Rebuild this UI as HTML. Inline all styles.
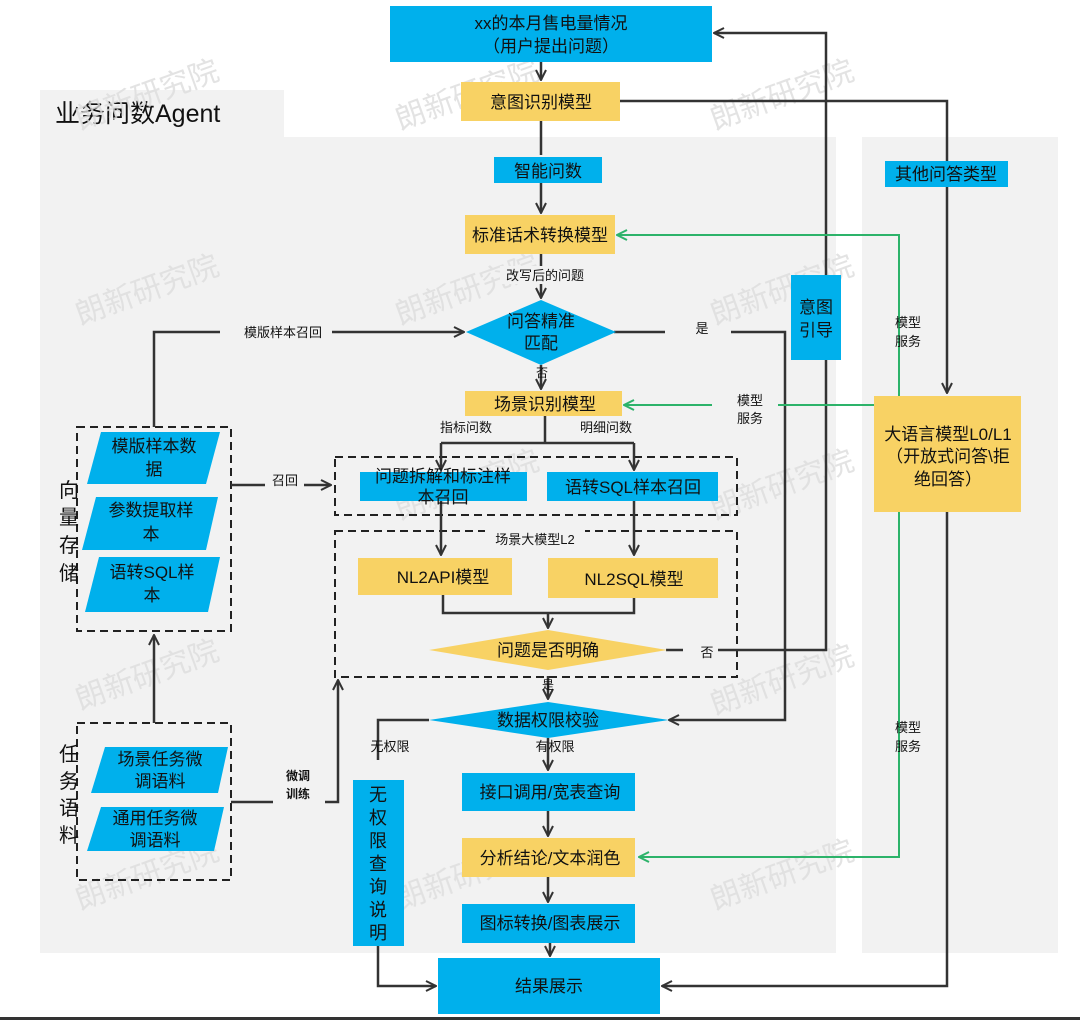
<!DOCTYPE html>
<html><head><meta charset="utf-8"><style>
html,body{margin:0;padding:0;background:#fff}
svg{display:block}
text{font-family:"Liberation Sans","Noto Sans CJK SC",sans-serif;fill:#111}
</style></head><body>
<svg width="1080" height="1020" viewBox="0 0 1080 1020" xmlns="http://www.w3.org/2000/svg">
<defs>
<marker id="a" viewBox="0 0 12 12" refX="11" refY="6" markerWidth="12" markerHeight="12" markerUnits="userSpaceOnUse" orient="auto"><path d="M1,1 L11,6 L1,11" fill="none" stroke="#333" stroke-width="2"/></marker>
<marker id="g" viewBox="0 0 12 12" refX="11" refY="6" markerWidth="12" markerHeight="12" markerUnits="userSpaceOnUse" orient="auto"><path d="M1,1 L11,6 L1,11" fill="none" stroke="#2db36a" stroke-width="2"/></marker>
</defs>
<!-- panels -->
<rect x="40" y="90" width="244" height="47" fill="#f2f2f2"/>
<rect x="40" y="137" width="796" height="816" fill="#f2f2f2"/>
<rect x="862" y="137" width="196" height="816" fill="#f2f2f2"/>
<text x="55" y="122" font-size="25">业务问数Agent</text>
<!-- watermarks -->
<g fill="#dcdcdc" font-size="30" opacity="0.8">
<text x="80" y="130" transform="rotate(-20 80 130)" style="fill:#ddd">朗新研究院</text>
<text x="80" y="325" transform="rotate(-20 80 325)" style="fill:#ddd">朗新研究院</text>
<text x="80" y="710" transform="rotate(-20 80 710)" style="fill:#ddd">朗新研究院</text>
<text x="80" y="910" transform="rotate(-20 80 910)" style="fill:#ddd">朗新研究院</text>
<text x="400" y="130" transform="rotate(-20 400 130)" style="fill:#ddd">朗新研究院</text>
<text x="400" y="325" transform="rotate(-20 400 325)" style="fill:#ddd">朗新研究院</text>
<text x="400" y="520" transform="rotate(-20 400 520)" style="fill:#ddd">朗新研究院</text>
<text x="400" y="910" transform="rotate(-20 400 910)" style="fill:#ddd">朗新研究院</text>
<text x="715" y="130" transform="rotate(-20 715 130)" style="fill:#ddd">朗新研究院</text>
<text x="715" y="325" transform="rotate(-20 715 325)" style="fill:#ddd">朗新研究院</text>
<text x="715" y="520" transform="rotate(-20 715 520)" style="fill:#ddd">朗新研究院</text>
<text x="715" y="715" transform="rotate(-20 715 715)" style="fill:#ddd">朗新研究院</text>
<text x="715" y="910" transform="rotate(-20 715 910)" style="fill:#ddd">朗新研究院</text>
</g>
<!-- dashed boxes -->
<g fill="none" stroke="#222" stroke-width="2" stroke-dasharray="8,5">
<rect x="335" y="457" width="402" height="58"/>
<rect x="335" y="531" width="402" height="146"/>
<rect x="77" y="427" width="154" height="204"/>
<rect x="77" y="723" width="154" height="157"/>
</g>
<!-- connectors dark -->
<g fill="none" stroke="#333" stroke-width="2.5">
<path d="M541,62 V80" marker-end="url(#a)"/>
<path d="M541,121 V155"/>
<path d="M541,183 V213" marker-end="url(#a)"/>
<path d="M541,254 V266"/>
<path d="M541,284 V298" marker-end="url(#a)"/>
<path d="M541,365 V389" marker-end="url(#a)"/>
<path d="M545,416 V443 M441,443 H634"/>
<path d="M441,443 V470" marker-end="url(#a)"/>
<path d="M634,443 V470" marker-end="url(#a)"/>
<path d="M441,500 V555" marker-end="url(#a)"/>
<path d="M634,500 V555" marker-end="url(#a)"/>
<path d="M443,595 V613 H634 V598 M548,613 V628" marker-end="url(#a)"/>
<path d="M548,676 V699" marker-end="url(#a)"/>
<path d="M548,738 V770" marker-end="url(#a)"/>
<path d="M548,811 V836" marker-end="url(#a)"/>
<path d="M548,877 V902" marker-end="url(#a)"/>
<path d="M550,943 V956" marker-end="url(#a)"/>
<path d="M620,101 H947 V393" marker-end="url(#a)"/>
<path d="M947,512 V986 H662" marker-end="url(#a)"/>
<path d="M666,650 H683 M718,650 H826 V33 H714" marker-end="url(#a)"/>
<path d="M614,332 H665 M731,332 H785 V720 H669" marker-end="url(#a)"/>
<path d="M429,720 H378 V760 M378,780 V986 H436" marker-end="url(#a)"/>
<path d="M154,427 V332 H220 M332,332 H464" marker-end="url(#a)"/>
<path d="M231,485 H265 M304,485 H331" marker-end="url(#a)"/>
<path d="M154,723 V635" marker-end="url(#a)"/>
<path d="M231,802 V802 H273 M325,802 H338 V680" marker-end="url(#a)"/>
</g>
<!-- green -->
<g fill="none" stroke="#2db36a" stroke-width="2">
<path d="M899,396 V235 H617" marker-end="url(#g)"/>
<path d="M874,405 H778 M712,405 H624" marker-end="url(#g)"/>
<path d="M899,512 V857 H639" marker-end="url(#g)"/>
</g>
<!-- boxes -->
<rect x="390" y="6" width="322" height="56" fill="#00b0ec"/>
<text x="551" y="29" font-size="17" text-anchor="middle">xx的本月售电量情况</text>
<text x="551" y="52" font-size="17" text-anchor="middle">（用户提出问题）</text>
<rect x="461" y="82" width="159" height="39" fill="#f8d264"/>
<text x="541" y="108" font-size="17" text-anchor="middle">意图识别模型</text>
<rect x="494" y="157" width="108" height="26" fill="#00b0ec"/>
<text x="548" y="177" font-size="17" text-anchor="middle">智能问数</text>
<rect x="465" y="215" width="150" height="39" fill="#f8d264"/>
<text x="540" y="241" font-size="17" text-anchor="middle">标准话术转换模型</text>
<rect x="500" y="266" width="90" height="18" fill="#f2f2f2"/>
<text x="545" y="280" font-size="13" text-anchor="middle">改写后的问题</text>
<polygon points="466,332 541,300 616,332 541,365" fill="#00b0ec"/>
<text x="541" y="327" font-size="17" text-anchor="middle">问答精准</text>
<text x="541" y="349" font-size="17" text-anchor="middle">匹配</text>
<text x="542" y="377" font-size="12" text-anchor="middle">否</text>
<text x="702" y="333" font-size="13" text-anchor="middle">是</text>
<rect x="465" y="391" width="157" height="25" fill="#f8d264"/>
<text x="545" y="410" font-size="17" text-anchor="middle">场景识别模型</text>
<text x="466" y="432" font-size="13" text-anchor="middle">指标问数</text>
<text x="606" y="432" font-size="13" text-anchor="middle">明细问数</text>
<rect x="360" y="472" width="167" height="29" fill="#00b0ec"/>
<text x="443" y="482" font-size="17" text-anchor="middle">问题拆解和标注样</text>
<text x="443" y="503" font-size="17" text-anchor="middle">本召回</text>
<rect x="547" y="472" width="171" height="29" fill="#00b0ec"/>
<text x="633" y="493" font-size="17" text-anchor="middle">语转SQL样本召回</text>
<rect x="485" y="530" width="100" height="16" fill="#f2f2f2"/>
<text x="535" y="544" font-size="13" text-anchor="middle">场景大模型L2</text>
<rect x="358" y="558" width="154" height="37" fill="#f8d264"/>
<text x="443" y="583" font-size="17" text-anchor="middle">NL2API模型</text>
<rect x="548" y="558" width="170" height="40" fill="#f8d264"/>
<text x="634" y="585" font-size="17" text-anchor="middle">NL2SQL模型</text>
<polygon points="429,650 548,630 667,650 548,670" fill="#f8d264"/>
<text x="548" y="656" font-size="17" text-anchor="middle">问题是否明确</text>
<text x="707" y="657" font-size="13" text-anchor="middle">否</text>
<text x="548" y="689" font-size="12" text-anchor="middle">是</text>
<polygon points="429,720 548,702 669,720 548,738" fill="#00b0ec"/>
<text x="548" y="726" font-size="17" text-anchor="middle">数据权限校验</text>
<text x="390" y="751" font-size="13" text-anchor="middle">无权限</text>
<text x="555" y="751" font-size="13" text-anchor="middle">有权限</text>
<rect x="462" y="773" width="173" height="38" fill="#00b0ec"/>
<text x="550" y="798" font-size="17" text-anchor="middle">接口调用/宽表查询</text>
<rect x="462" y="838" width="173" height="39" fill="#f8d264"/>
<text x="550" y="864" font-size="17" text-anchor="middle">分析结论/文本润色</text>
<rect x="462" y="904" width="173" height="39" fill="#00b0ec"/>
<text x="550" y="929" font-size="17" text-anchor="middle">图标转换/图表展示</text>
<rect x="438" y="958" width="222" height="56" fill="#00b0ec"/>
<text x="549" y="992" font-size="17" text-anchor="middle">结果展示</text>
<rect x="353" y="780" width="51" height="166" fill="#00b0ec"/>
<g font-size="18" text-anchor="middle">
<text x="378" y="801">无</text><text x="378" y="824">权</text><text x="378" y="847">限</text><text x="378" y="870">查</text><text x="378" y="893">询</text><text x="378" y="916">说</text><text x="378" y="939">明</text>
</g>
<rect x="791" y="275" width="50" height="85" fill="#00b0ec"/>
<text x="816" y="313" font-size="17" text-anchor="middle">意图</text>
<text x="816" y="336" font-size="17" text-anchor="middle">引导</text>
<rect x="885" y="161" width="123" height="26" fill="#00b0ec"/>
<text x="946" y="180" font-size="17" text-anchor="middle">其他问答类型</text>
<rect x="874" y="396" width="147" height="116" fill="#f8d264"/>
<text x="948" y="440" font-size="17" text-anchor="middle">大语言模型L0/L1</text>
<text x="948" y="462" font-size="17" text-anchor="middle">（开放式问答\拒</text>
<text x="948" y="485" font-size="17" text-anchor="middle">绝回答）</text>
<g font-size="13" text-anchor="middle">
<text x="908" y="327">模型</text><text x="908" y="346">服务</text>
<text x="750" y="405">模型</text><text x="750" y="423">服务</text>
<text x="908" y="732">模型</text><text x="908" y="751">服务</text>
<text x="283" y="337">模版样本召回</text>
<text x="285" y="485">召回</text>
</g>
<text x="298" y="780" font-size="12" font-weight="bold" text-anchor="middle">微调</text>
<text x="298" y="798" font-size="12" font-weight="bold" text-anchor="middle">训练</text>
<!-- parallelograms -->
<g fill="#00b0ec">
<polygon points="101,432 220,432 206,484 87,484"/>
<polygon points="96,497 218,497 206,550 82,550"/>
<polygon points="99,557 220,557 208,612 85,612"/>
<polygon points="105,747 228,747 218,793 91,793"/>
<polygon points="101,807 224,807 214,851 87,851"/>
</g>
<g font-size="17" text-anchor="middle">
<text x="154" y="452">模版样本数</text><text x="154" y="475">据</text>
<text x="151" y="516">参数提取样</text><text x="151" y="540">本</text>
<text x="152" y="578">语转SQL样</text><text x="152" y="601">本</text>
<text x="160" y="765">场景任务微</text><text x="160" y="787">调语料</text>
<text x="155" y="824">通用任务微</text><text x="155" y="846">调语料</text>
</g>
<g font-size="20" text-anchor="middle">
<text x="69" y="497">向</text><text x="69" y="524">量</text><text x="69" y="552">存</text><text x="69" y="580">储</text>
<text x="69" y="761">任</text><text x="69" y="788">务</text><text x="69" y="815">语</text><text x="69" y="842">料</text>
</g>
<rect x="0" y="1017" width="1080" height="3" fill="#333"/>
</svg>
</body></html>
